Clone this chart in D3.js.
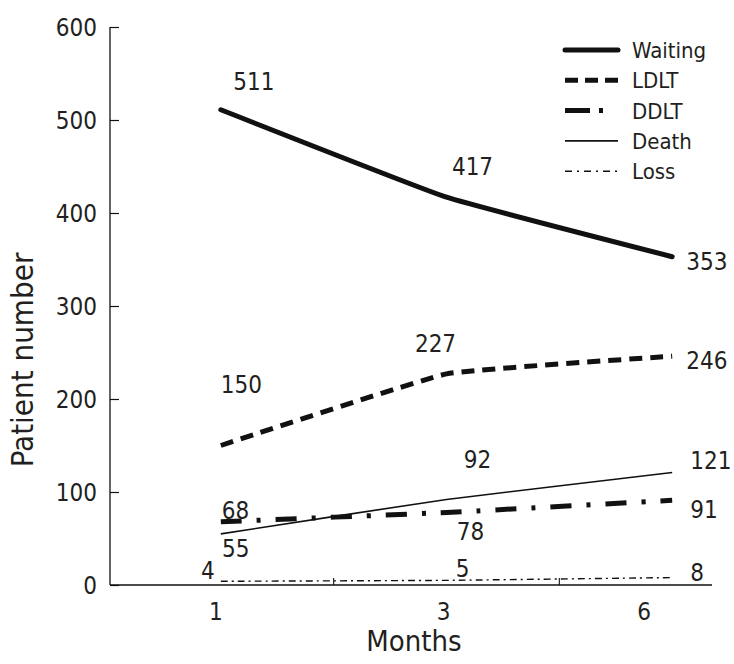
<!DOCTYPE html>
<html>
<head>
<meta charset="utf-8">
<script src="https://cdn.jsdelivr.net/npm/d3@7"></script>
<style>
  html, body { margin: 0; padding: 0; background: #fff; }
  svg { display: block; }
  text { font-family: "Liberation Sans Narrow", "Arial Narrow", "DejaVu Sans Condensed", sans-serif; fill: #231f20; }
</style>
</head>
<body>
<svg id="chart" width="734" height="664"></svg>
<script>
// ---- data ----
const months = ["1", "3", "6"];
const waiting = [511, 417, 353];
const ldlt = [150, 227, 246];
const ddlt = [68, 78, 91];
const death = [55, 92, 121];
const loss = [4, 5, 8];
const yTicks = [0, 100, 200, 300, 400, 500, 600];
const seriesNames = ["Waiting", "LDLT", "DDLT", "Death", "Loss"];

// ---- layout ----
const svg = d3.select("#chart");
const ink = "#111";
const x = d3.scaleBand().domain(months).range([108, 785]).paddingInner(0).paddingOuter(0);
const cx = m => x(m) + x.bandwidth() / 2;
const y = d3.scaleLinear().domain([0, 600]).range([585, 27]);
const axisRight = 712;

const styles = {
  Waiting: { w: 5, dash: null, cap: "round" },
  LDLT: { w: 5, dash: "13,8", cap: "butt" },
  DDLT: { w: 5, dash: "21,15,4,15", cap: "butt" },
  Death: { w: 1.6, dash: null, cap: "butt" },
  Loss: { w: 1.4, dash: "7,4,2,4", cap: "butt" }
};
const seriesData = { Waiting: waiting, LDLT: ldlt, DDLT: ddlt, Death: death, Loss: loss };

// ---- axes ----
const yAxis = d3.axisLeft(y).tickValues(yTicks).tickSize(-9).tickPadding(13).tickSizeOuter(0);
const gy = svg.append("g").attr("transform", "translate(110,0)").call(yAxis);
gy.select(".domain").attr("stroke", ink).attr("stroke-width", 1.3).attr("d", `M0,${y(600)}V${y(0)}`);
gy.selectAll(".tick line").attr("stroke", ink).attr("stroke-width", 1.2).attr("x2", 9);
gy.selectAll(".tick text").attr("font-size", 24).attr("fill", "#231f20")
  .attr("font-family", "Liberation Sans Narrow, Arial Narrow, DejaVu Sans Condensed, sans-serif")
  .attr("dy", "0.36em");

// x axis line
svg.append("line").attr("x1", 110).attr("x2", axisRight).attr("y1", y(0)).attr("y2", y(0))
  .attr("stroke", ink).attr("stroke-width", 1.3);
// interior ticks at band boundaries
svg.selectAll(".xb").data(months.slice(1)).join("line")
  .attr("x1", d => x(d)).attr("x2", d => x(d))
  .attr("y1", y(0)).attr("y2", y(0) - 7)
  .attr("stroke", ink).attr("stroke-width", 1.1);
const monthLabelShift = [-5, -3, -28];
svg.selectAll(".xl").data(months).join("text")
  .attr("x", (d, i) => cx(d) + monthLabelShift[i]).attr("y", 620)
  .attr("text-anchor", "middle").attr("font-size", 24).text(d => d);

svg.append("text").attr("x", 414).attr("y", 651).attr("text-anchor", "middle")
  .attr("font-size", 29).text("Months");
svg.append("text").attr("transform", "translate(33,360) rotate(-90)")
  .attr("text-anchor", "middle").attr("font-size", 31).text("Patient number");

// ---- lines ----
const line = d3.line().x((d, i) => cx(months[i])).y(d => y(d)).curve(d3.curveCardinal.tension(0.7));
seriesNames.forEach(name => {
  const s = styles[name];
  svg.append("path").datum(seriesData[name])
    .attr("d", line)
    .attr("fill", "none").attr("stroke", ink)
    .attr("stroke-width", s.w)
    .attr("stroke-linecap", s.cap)
    .attr("stroke-linejoin", "round")
    .attr("stroke-dasharray", s.dash);
});

// ---- value labels (offsets relative to each point) ----
const labelOffsets = {
  Waiting: [[33, -20, "middle"], [26, -22, "middle"], [14, 13, "start"]],
  LDLT: [[0, -53, "start"], [-11, -22, "middle"], [14, 13, "start"]],
  DDLT: [[1, -3, "start"], [24, 28, "middle"], [18, 18, "start"]],
  Death: [[15, 23, "middle"], [31, -31, "middle"], [18, -3, "start"]],
  Loss: [[-13, -2, "middle"], [16, -3, "middle"], [18, 3, "start"]]
};
seriesNames.forEach(name => {
  seriesData[name].forEach((v, i) => {
    const o = labelOffsets[name][i];
    svg.append("text")
      .attr("x", cx(months[i]) + o[0])
      .attr("y", y(v) + o[1])
      .attr("text-anchor", o[2])
      .attr("font-size", 24)
      .text(v);
  });
});

// ---- legend ----
const legend = svg.append("g").attr("transform", "translate(565,50)");
seriesNames.forEach((name, i) => {
  const s = styles[name];
  const g = legend.append("g").attr("transform", `translate(0,${i * 30.3})`);
  g.append("line").attr("x1", 0).attr("x2", 53).attr("y1", 0).attr("y2", 0)
    .attr("stroke", ink).attr("stroke-width", s.w)
    .attr("stroke-linecap", name === "Waiting" ? "round" : "butt")
    .attr("stroke-dasharray", name === "DDLT" ? "25,9,4,40" : name === "LDLT" ? "13,7" : name === "Loss" ? "7,5,2,5" : null);
  g.append("text").attr("x", 67).attr("y", 8).attr("font-size", 22).text(name);
});
</script>
</body>
</html>
